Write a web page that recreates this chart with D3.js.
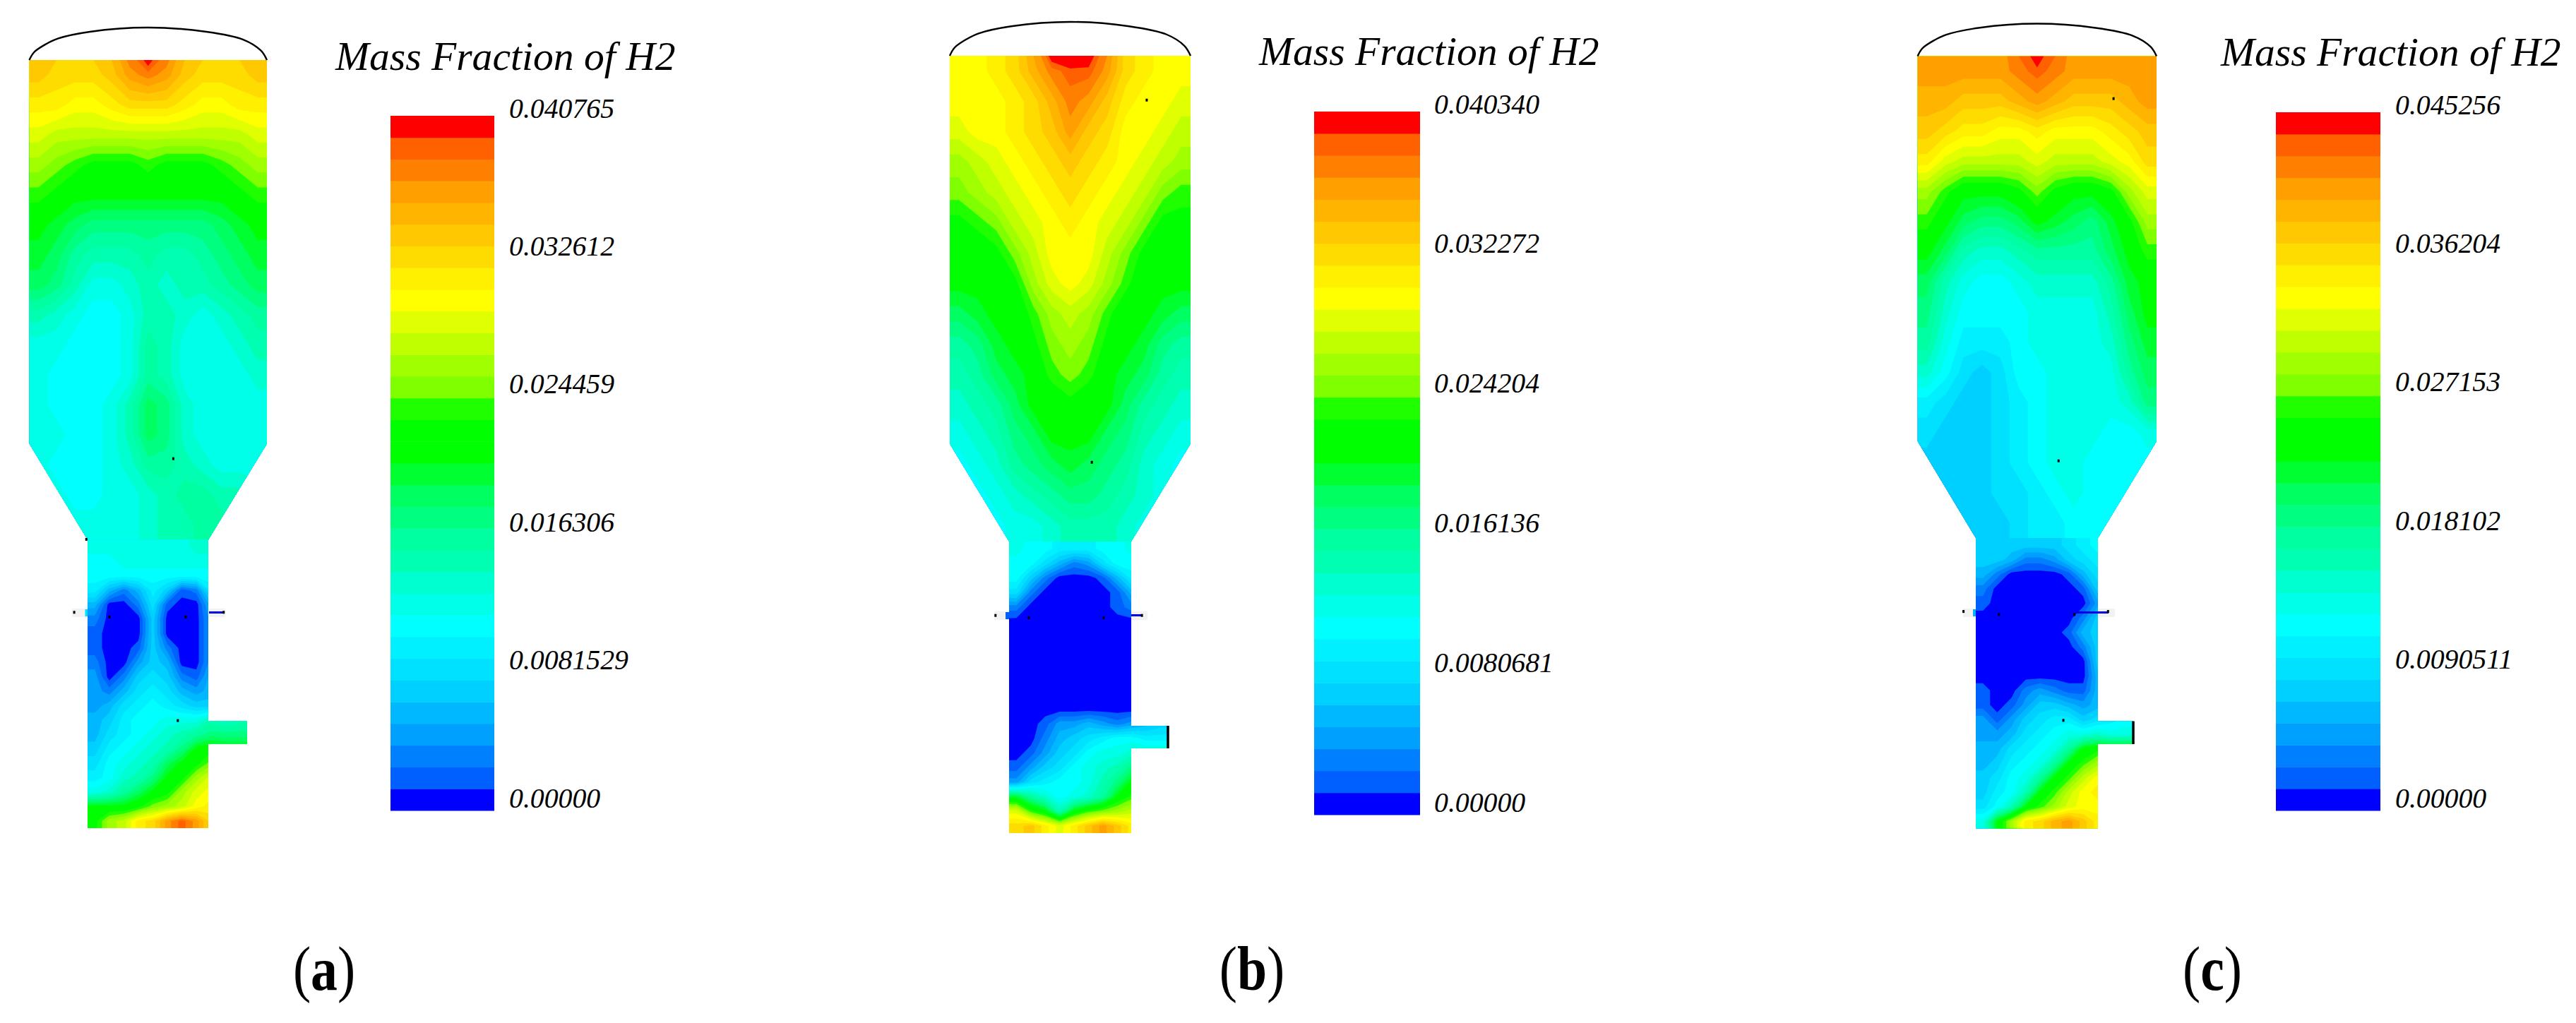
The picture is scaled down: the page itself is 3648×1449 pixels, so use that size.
<!DOCTYPE html>
<html>
<head>
<meta charset="utf-8">
<script src="https://cdn.jsdelivr.net/npm/d3@7"></script>
<style>
  html, body { margin: 0; background: #fff; }
  svg { display: block; }
  text { font-family: "Liberation Serif", serif; fill: #000; }
</style>
</head>
<body>
<svg id="chart" width="3648" height="1449"></svg>
<script>
// Colour bar levels, bottom to top (32 bands)
const bandColors = [
  "#0000ff", "#0060ff", "#0080ff", "#00a0ff", "#00b8ff", "#00d0ff", "#00e0ff", "#00f0ff",
  "#00ffff", "#00ffe8", "#00ffd0", "#00ffb0", "#00ffa0", "#00ff80", "#00ff60", "#00ff30",
  "#00ff00", "#00ff00", "#20ff00", "#80ff00", "#a0ff00", "#c0ff00", "#e0ff00", "#ffff00",
  "#fff000", "#ffdc00", "#ffc800", "#ffb400", "#ffa000", "#ff8000", "#ff6000", "#ff0000"
];

const maxA = 0.040765;
const maxB = 0.040340;
const maxC = 0.045256;

const ticksA = ["0.00000", "0.0081529", "0.016306", "0.024459", "0.032612", "0.040765"];
const ticksB = ["0.00000", "0.0080681", "0.016136", "0.024204", "0.032272", "0.040340"];
const ticksC = ["0.00000", "0.0090511", "0.018102", "0.027153", "0.036204", "0.045256"];

// H2 field, as colour bar level (0-31) per sample.
// "upper" is the wide body, "lower" is the neck plus side pipe.
// "topEdge" is the reading right at the top wall, where the hot spot sits.
const topEdgeA = [26,26,26,26,27,30,34,30,27,26,26,26,26];
const upperA = [
  [26,25,25,25,26,28,29,28,26,25,25,25,26],
  [24,24,23,23,24,25,25,25,24,23,23,24,24],
  [22,21,21,21,21,21,21,21,21,21,21,21,22],
  [20,19,18,17,17,17,18,17,17,17,18,19,20],
  [18,17,16,16,16,16,16,16,16,16,16,17,18],
  [16,15,14,13,13,13,13,13,13,13,14,15,16],
  [15,14,12,11,11,11,12,11,11,12,13,14,15],
  [14,13,11,9,9,10,11,10,11,11,12,13,14],
  [11,10,9,8,8,9,11,11,10,9,10,11,12],
  [9,9,8,8,8,9,12,11,9,9,9,10,11],
  [9,8,8,8,8,9,12,11,9,9,9,9,10],
  [9,8,8,8,9,11,14,13,10,9,9,9,9],
  [9,9,8,8,9,11,14,13,10,9,9,9,9],
  [9,8,8,8,9,10,12,12,11,10,9,9,9],
  [9,9,8,8,9,9,10,11,12,12,11,11,10],
  [9,9,9,9,9,9,10,11,11,12,12,11,11]
];
const lowerA = [
  [9,9,9,9,9,9,9,10,10,10,10],
  [8,8,9,9,9,9,9,9,9,9,9],
  [8,8,8,8,8,8,8,8,8,8,8],
  [7,4,2,4,7,5,1,2,7,8,8],
  [4,0,0,2,6,1,0,0,4,6,6],
  [2,0,0,0,5,0,0,0,3,6,6],
  [1,0,0,0,5,0,0,0,3,6,6],
  [1,0,0,1,5,2,0,0,3,6,6],
  [2,0,0,3,5,4,0,0,3,6,6],
  [3,0,2,5,6,5,2,1,4,6,6],
  [3,2,4,6,7,6,4,3,4,6,6],
  [3,4,6,7,8,7,6,5,5,7,8],
  [4,5,7,8,8,9,9,9,11,10,11],
  [4,6,7,8,9,10,11,12,13,13,13],
  [5,7,8,9,10,11,13,16,17,16,16],
  [6,8,9,10,11,14,16,17,19,19,19],
  [7,8,10,11,13,16,17,20,22,22,22],
  [9,10,12,14,16,17,20,22,23,23,23],
  [16,16,16,17,19,20,21,23,24,24,24],
  [17,20,21,24,25,28,30,28,25,25,25]
];

const topEdgeB = [23,23,24,25,28,34,36,34,29,25,24,23,23];
const upperB = [
  [23,23,24,25,27,29,30,30,28,25,24,23,23],
  [23,23,23,24,25,27,29,28,26,24,23,23,22],
  [22,23,23,24,25,26,28,26,25,23,23,22,21],
  [20,21,22,23,24,25,26,25,24,23,22,21,20],
  [19,20,21,22,23,24,25,24,23,22,21,19,18],
  [17,18,19,21,22,23,24,23,22,21,19,17,17],
  [16,16,17,19,21,23,23,23,21,19,17,16,16],
  [16,16,16,17,20,22,23,22,20,18,16,16,16],
  [14,15,16,16,18,20,21,20,18,16,16,15,14],
  [12,13,15,16,17,19,20,19,17,16,15,13,12],
  [11,12,14,15,16,18,19,18,16,15,14,12,11],
  [10,11,12,14,16,16,17,16,16,14,12,11,10],
  [9,10,11,13,14,16,16,16,14,13,11,10,9],
  [8,9,10,12,13,14,15,14,13,12,10,9,8],
  [8,8,9,10,11,12,13,13,12,11,10,9,8],
  [8,8,8,9,9,10,11,11,11,10,9,8,8]
];
const lowerB = [
  [9,8,8,7,7,7,8,8,9,9,9],
  [8,8,6,4,2,3,6,8,8,8,8],
  [8,5,2,0,0,0,1,4,7,8,8],
  [6,2,0,0,0,0,0,1,4,8,8],
  [2,0,0,0,0,0,0,1,2,4,4],
  [0,0,0,0,0,0,0,0,0,0,0],
  [0,0,0,0,0,0,0,0,0,0,0],
  [0,0,0,0,0,0,0,0,0,0,0],
  [0,0,0,0,0,0,0,0,0,0,0],
  [0,0,0,0,0,0,0,0,0,0,0],
  [0,0,0,0,0,0,0,0,0,0,0],
  [0,0,0,0,0,0,0,0,0,0,0],
  [0,0,1,3,3,4,3,2,3,4,5],
  [0,0,2,4,5,6,7,8,8,7,7],
  [0,1,3,5,6,8,9,9,10,10,10],
  [1,3,5,6,8,9,10,11,13,13,13],
  [3,6,7,8,8,9,11,13,16,16,16],
  [15,12,10,8,9,10,12,16,18,18,18],
  [22,18,16,11,16,18,19,20,21,21,21],
  [25,26,24,22,24,26,28,26,24,24,24]
];

const topEdgeC = [28,28,28,28,28,30,34,30,28,28,28,28,28];
const upperC = [
  [28,28,28,28,28,29,30,29,28,28,28,28,28],
  [27,27,26,26,26,27,28,27,26,26,26,27,28],
  [26,25,24,24,23,23,24,23,23,23,24,25,26],
  [24,22,21,21,21,21,22,21,21,21,22,23,25],
  [20,18,16,16,16,17,19,17,16,16,17,20,22],
  [18,16,14,13,13,14,16,15,14,13,15,17,20],
  [16,14,11,10,10,11,12,12,12,12,14,16,18],
  [14,11,9,8,8,9,10,10,10,10,12,15,16],
  [13,10,8,8,8,8,9,9,9,9,11,14,16],
  [12,9,7,7,7,8,9,9,9,9,10,13,15],
  [10,8,6,5,6,8,8,9,9,9,9,12,14],
  [7,6,5,5,6,7,8,9,9,9,9,10,13],
  [6,5,5,5,6,7,8,9,9,9,8,8,9],
  [5,5,5,5,6,7,8,9,9,8,8,8,8],
  [5,5,5,5,6,6,7,8,9,8,8,8,8],
  [5,5,5,5,5,6,7,7,8,8,8,8,8]
];
const lowerC = [
  [5,5,5,5,5,5,6,7,8,8,8],
  [5,5,4,2,2,3,5,6,7,8,8],
  [4,2,0,0,0,0,1,4,6,7,7],
  [2,0,0,0,0,0,0,1,5,7,7],
  [1,0,0,0,0,0,0,0,3,6,6],
  [0,0,0,0,0,0,0,2,5,6,6],
  [0,0,0,0,0,0,1,4,5,6,6],
  [0,0,0,0,0,0,0,2,5,6,6],
  [0,0,0,0,0,0,0,0,5,6,6],
  [0,0,0,0,0,0,0,0,4,6,6],
  [1,0,0,2,3,2,1,1,4,6,6],
  [1,0,1,3,5,5,4,3,4,6,6],
  [3,1,3,5,6,7,7,5,6,7,8],
  [3,3,4,6,7,8,9,9,10,9,9],
  [4,4,6,7,8,9,12,16,17,17,17],
  [4,5,7,8,9,12,16,18,20,20,20],
  [5,6,8,9,12,16,18,21,23,23,23],
  [5,7,8,11,16,18,21,23,24,24,24],
  [6,8,11,16,18,20,22,23,23,23,23],
  [9,16,20,24,25,27,28,26,24,24,24]
];

// Dark specks on the mesh, in vessel units (0-1 across body width, 0-1 down the vessel)
const specksA = [[0.606,0.519],[0.24,0.624],[0.189,0.719],[0.337,0.725],[0.658,0.725],[0.625,0.86],[0.818,0.719]];
const specksB = [[0.818,0.057],[0.59,0.523],[0.19,0.72],[0.328,0.723],[0.639,0.723],[0.798,0.72]];
const specksC = [[0.82,0.055],[0.59,0.524],[0.192,0.719],[0.341,0.723],[0.656,0.723],[0.61,0.86],[0.797,0.719]];

// Head outline of the vessel, in vessel units across and fraction of the head height
const domeShape = [[0,0],[0.02,0.24],[0.07,0.49],[0.12,0.66],[0.255,0.87],[0.5,1],[0.745,0.87],[0.9,0.63],[0.975,0.29],[1,0]];

// Layout
const panels = [
  {id: "a", tag: "a", max: maxA, ticks: ticksA, upper: upperA, lower: lowerA, topEdge: topEdgeA, specks: specksA,
   left: 41.5, right: 378, domeTop: 39, top: 85, taper: 628.6, neckTop: 764.5, neckL: 124, neckR: 295, bottom: 1173,
   pipeTop: 1021.5, pipeBottom: 1053.6, pipeEnd: 350, pipeCap: false,
   strip: [102, 319, 862, 874], stubL: [120.5, "#00e0ff"], stubR: [296, 317, 866],
   barL: 553, barR: 700, barTop: 164, barBottom: 1148, tickTop: 153, tickBottom: 1130, tickX: 721,
   titleX: 475, titleY: 99, capX: 459},
  {id: "b", tag: "b", max: maxB, ticks: ticksB, upper: upperB, lower: lowerB, topEdge: topEdgeB, specks: specksB,
   left: 1345, right: 1686, domeTop: 31, top: 79, taper: 628.5, neckTop: 767, neckL: 1429, neckR: 1602, bottom: 1180,
   pipeTop: 1028, pipeBottom: 1060, pipeEnd: 1654, pipeCap: true,
   strip: [1408, 1625, 866, 878], stubL: [1424, "#0060ff"], stubR: [1602, 1617, 870],
   barL: 1861, barR: 2011, barTop: 158, barBottom: 1154, tickTop: 147, tickBottom: 1136, tickX: 2031,
   titleX: 1783, titleY: 92, capX: 1773},
  {id: "c", tag: "c", max: maxC, ticks: ticksC, upper: upperC, lower: lowerC, topEdge: topEdgeC, specks: specksC,
   left: 2715.6, right: 3054, domeTop: 33.5, top: 79.5, taper: 625, neckTop: 762, neckL: 2798, neckR: 2971, bottom: 1173.5,
   pipeTop: 1021.5, pipeBottom: 1054, pipeEnd: 3021, pipeCap: true,
   strip: [2780, 2995, 862, 874], stubL: [2794, "#00b0ff"], stubR: [2940, 2986, 866],
   barL: 3223, barR: 3371, barTop: 159, barBottom: 1148, tickTop: 148, tickBottom: 1130, tickX: 3392,
   titleX: 3145, titleY: 93, capX: 3133}
];

const svg = d3.select("#chart");

// Repeat the outer samples one cell outwards so d3.contours does not close
// the bands inside the vessel walls
const padGrid = (grid, topEdge) => {
  const wide = row => [row[0], ...row, row[row.length - 1]];
  return [wide(topEdge || grid[0]), ...grid.map(wide), wide(grid[grid.length - 1])];
};

// Draw one sampled field with d3.contours, stacking the 32 bands from low to high
const drawField = (g, grid, p, x0, x1, y0, y1, topEdge) => {
  const rows = grid.length, cols = grid[0].length;
  const padded = padGrid(grid, topEdge);
  const values = padded.flat().map(level => (level + 0.5) * p.max / bandColors.length);
  const band = d3.scaleQuantize().domain([0, p.max]).range(d3.range(bandColors.length));
  const thresholds = d3.range(bandColors.length).map(i => i * p.max / bandColors.length);
  const contours = d3.contours().size([cols + 2, rows + 2]).thresholds(thresholds)(values);
  const sx = d3.scaleLinear().domain([1, cols + 1]).range([x0, x1]);
  const sy = d3.scaleLinear().domain([1, rows + 1]).range([y0, y1]);
  const path = d3.geoPath(d3.geoTransform({
    point(px, py) { this.stream.point(sx(px), sy(py)); }
  }));
  g.selectAll(null)
    .data(contours)
    .join("path")
    .attr("d", path)
    .attr("fill", d => bandColors[band(d.value + 1e-9)]);
};

panels.forEach(p => {
  const g = svg.append("g").attr("class", "panel-" + p.id);

  // Vessel coordinates
  const ux = d3.scaleLinear().domain([0, 1]).range([p.left, p.right]);
  const uy = d3.scaleLinear().domain([0, 1]).range([p.top, p.bottom]);

  // Vessel outline used as clip for the field
  const outline = [
    [p.left, p.top], [p.right, p.top], [p.right, p.taper], [p.neckR, p.neckTop],
    [p.neckR, p.pipeTop], [p.pipeEnd, p.pipeTop], [p.pipeEnd, p.pipeBottom], [p.neckR, p.pipeBottom],
    [p.neckR, p.bottom], [p.neckL, p.bottom], [p.neckL, p.neckTop], [p.left, p.taper]
  ];
  svg.append("clipPath").attr("id", "vessel-" + p.id)
    .append("path").attr("d", d3.line()(outline) + "Z");
  svg.append("clipPath").attr("id", "upper-" + p.id)
    .append("rect").attr("x", p.left).attr("y", p.top)
    .attr("width", p.right - p.left).attr("height", p.neckTop - p.top + 1);
  svg.append("clipPath").attr("id", "lower-" + p.id)
    .append("rect").attr("x", p.neckL).attr("y", p.neckTop)
    .attr("width", p.pipeEnd - p.neckL).attr("height", p.bottom - p.neckTop);

  // Injection ring strip sits behind the field
  g.append("rect")
    .attr("x", p.strip[0]).attr("y", p.strip[2])
    .attr("width", p.strip[1] - p.strip[0]).attr("height", p.strip[3] - p.strip[2])
    .attr("fill", "#f2f2f2");

  const field = g.append("g").attr("clip-path", `url(#vessel-${p.id})`);
  drawField(field.append("g").attr("clip-path", `url(#upper-${p.id})`), p.upper, p, p.left, p.right, p.top, p.neckTop, p.topEdge);
  drawField(field.append("g").attr("clip-path", `url(#lower-${p.id})`), p.lower, p, p.neckL, p.pipeEnd, p.neckTop, p.bottom);

  // Stubs on either side of the neck
  g.append("rect")
    .attr("x", p.stubL[0]).attr("y", p.strip[2] + 1)
    .attr("width", p.neckL - p.stubL[0]).attr("height", p.strip[3] - p.strip[2] - 2)
    .attr("fill", p.stubL[1]);
  g.append("rect")
    .attr("x", p.stubR[0]).attr("y", p.stubR[2])
    .attr("width", p.stubR[1] - p.stubR[0]).attr("height", 3)
    .attr("fill", "#0000e0");

  if (p.pipeCap) {
    g.append("line")
      .attr("x1", p.pipeEnd).attr("x2", p.pipeEnd)
      .attr("y1", p.pipeTop).attr("y2", p.pipeBottom)
      .attr("stroke", "#000").attr("stroke-width", 3.5);
  }

  g.selectAll(".speck")
    .data(p.specks)
    .join("rect")
    .attr("class", "speck")
    .attr("x", d => ux(d[0]) - 1.5)
    .attr("y", d => uy(d[1]) - 2)
    .attr("width", 3)
    .attr("height", 4)
    .attr("fill", "#000");

  // Head of the vessel
  const hy = d3.scaleLinear().domain([0, 1]).range([p.top, p.domeTop]);
  g.append("path")
    .attr("d", d3.line().x(d => ux(d[0])).y(d => hy(d[1])).curve(d3.curveCatmullRom)(domeShape))
    .attr("fill", "none")
    .attr("stroke", "#000")
    .attr("stroke-width", 2.4);

  // Colour bar
  const barY = d3.scaleBand()
    .domain(d3.range(bandColors.length))
    .range([p.barBottom, p.barTop]);
  g.selectAll(".band")
    .data(bandColors)
    .join("rect")
    .attr("class", "band")
    .attr("x", p.barL)
    .attr("y", (d, i) => barY(i))
    .attr("width", p.barR - p.barL)
    .attr("height", barY.bandwidth() + 0.5)
    .attr("fill", d => d);

  const tickY = d3.scaleLinear().domain([0, p.max]).range([p.tickBottom, p.tickTop]);
  g.selectAll(".tick")
    .data(p.ticks)
    .join("text")
    .attr("class", "tick")
    .attr("transform", d => `translate(${p.tickX},${tickY(+d)}) scale(0.97,1)`)
    .attr("dy", "0.33em")
    .attr("font-size", 41)
    .attr("font-style", "italic")
    .text(d => d);

  g.append("text")
    .attr("x", p.titleX)
    .attr("y", p.titleY)
    .attr("font-size", 57.6)
    .attr("font-style", "italic")
    .text("Mass Fraction of H2");

  // Panel letter, the reference glyphs are a bit condensed
  const cap = g.append("text")
    .attr("transform", `translate(${p.capX},1402) scale(0.86,1)`)
    .attr("text-anchor", "middle")
    .attr("font-size", 88);
  cap.append("tspan").text("(");
  cap.append("tspan").attr("font-weight", "bold").text(p.tag);
  cap.append("tspan").text(")");
});
</script>
</body>
</html>
